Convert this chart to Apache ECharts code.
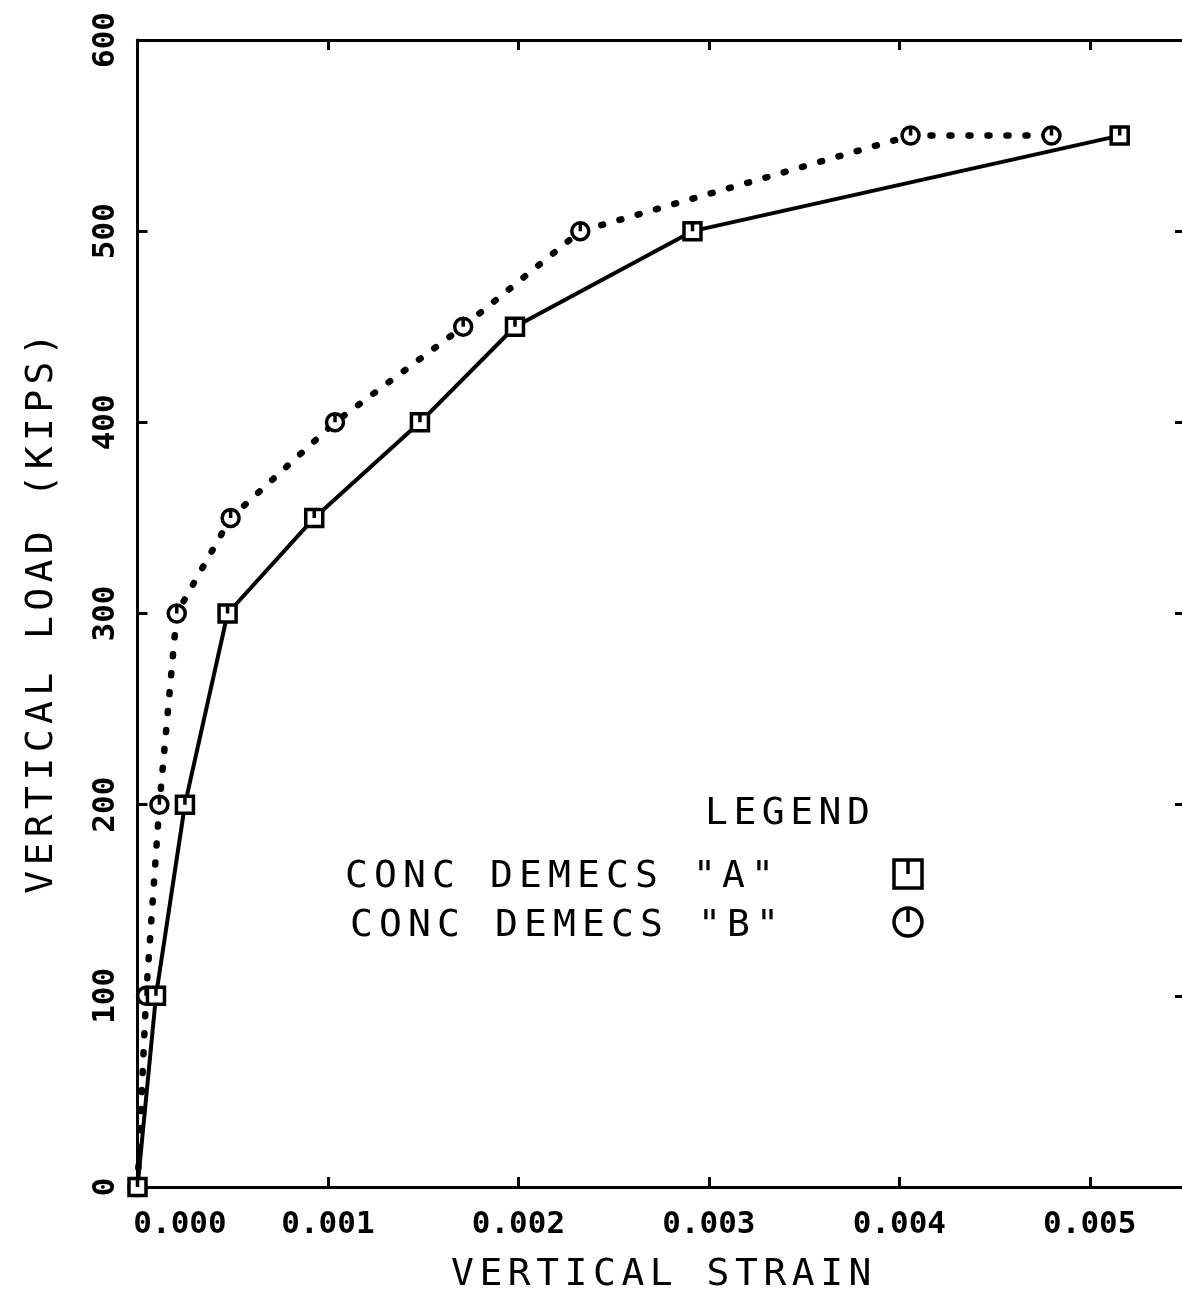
<!DOCTYPE html>
<html><head><meta charset="utf-8">
<script src="https://cdn.jsdelivr.net/npm/echarts@6/dist/echarts.min.js"></script>
<style>html,body{margin:0;padding:0;background:#fff;overflow:hidden}#c{width:1190px;height:1290px}</style>
</head><body><div id="c"></div>
<script>
// ---- data ----
const loadsA  = [0, 100, 200, 300, 350, 400, 450, 500, 550];
const strainA = [0, 0.000097, 0.000249, 0.000473, 0.000928, 0.001483, 0.001982, 0.002914, 0.005157];
const loadsB  = [0, 100, 200, 300, 350, 400, 450, 500, 550, 550];
const strainB = [0, 0.000045, 0.000115, 0.000206, 0.000489, 0.001037, 0.001710, 0.002325, 0.004059, 0.004799];
const xTickValues = [0, 0.001, 0.002, 0.003, 0.004, 0.005];
const xTickLabels = ['0.000', '0.001', '0.002', '0.003', '0.004', '0.005'];
const yTickValues = [0, 100, 200, 300, 400, 500, 600];
const yTickLabels = ['0', '100', '200', '300', '400', '500', '600'];
const xTitle = 'VERTICAL STRAIN';
const yTitle = 'VERTICAL LOAD (KIPS)';
const legendTitle = 'LEGEND';
const seriesNames = ['CONC DEMECS "A"', 'CONC DEMECS "B"'];

// ---- style ----
const MONO = '"DejaVu Sans Mono", "Liberation Mono", monospace';
const TITLE_SIZE = 38;
function spaced(text, key) {
  return text.split('').map(ch => '{' + key + '|' + ch + '}').join('');
}
function richChar(pitch) {
  return { width: pitch, fontFamily: MONO, fontSize: TITLE_SIZE, color: '#000', fontWeight: 'normal' };
}
const squarePath = 'path://M0,0 L20,0 L20,20 L0,20 Z M10,0 L10,10';
const circlePath = 'path://M20,10 A10,10 0 1,1 0,10 A10,10 0 1,1 20,10 Z M10,0 L10,10';

const chart = echarts.init(document.getElementById('c'), null, { renderer: 'canvas' });

const axisLineStyle = { color: '#000', width: 3 };
const tickCommon = { inside: true, length: 10, lineStyle: { color: '#000', width: 3 } };

function xLabel(v) {
  const i = xTickValues.findIndex(t => Math.abs(t - v) < 1e-9);
  if (i < 0) return '';
  return i === 0 ? '{first|' + xTickLabels[i] + '}' : xTickLabels[i];
}
function yLabel(v) {
  const i = yTickValues.findIndex(t => Math.abs(t - v) < 1e-6);
  return i < 0 ? '' : yTickLabels[i];
}

const option = {
  backgroundColor: '#fff',
  animation: false,
  grid: { left: 137.5, right: 5, top: 40, bottom: 103, containLabel: false, outerBoundsMode: 'none' },
  xAxis: [{
    type: 'value', min: 0, max: 0.0055, interval: 0.001, position: 'bottom',
    axisLine: { show: true, onZero: false, lineStyle: axisLineStyle },
    axisTick: tickCommon,
    splitLine: { show: false },
    axisLabel: {
      formatter: xLabel, margin: 22, color: '#000',
      fontFamily: MONO, fontSize: 31, fontWeight: 'bold',
      rich: { first: { padding: [0, 0, 0, 85], fontFamily: MONO, fontSize: 31, fontWeight: 'bold', color: '#000' } }
    },
    name: spaced(xTitle, 'c'), nameLocation: 'middle', nameGap: 69,
    nameTextStyle: { rich: { c: richChar(28.4) } }
  }, {
    type: 'value', min: 0, max: 0.0055, interval: 0.001, position: 'top',
    axisLine: { show: true, onZero: false, lineStyle: axisLineStyle },
    axisTick: tickCommon, axisLabel: { show: false }, splitLine: { show: false }
  }],
  yAxis: [{
    type: 'value', min: 0, max: 600, interval: 100, position: 'left',
    axisLine: { show: true, onZero: false, lineStyle: axisLineStyle },
    axisTick: tickCommon,
    splitLine: { show: false },
    axisLabel: {
      formatter: yLabel, rotate: 90, margin: 16, color: '#000',
      fontFamily: MONO, fontSize: 31, fontWeight: 'bold'
    },
    name: spaced(yTitle, 'c'), nameLocation: 'middle', nameGap: 76, nameRotate: 90,
    nameTextStyle: { rich: { c: richChar(28.3) } }
  }, {
    type: 'value', min: 0, max: 600, interval: 100, position: 'right',
    axisLine: { show: true, onZero: false, lineStyle: axisLineStyle },
    axisTick: tickCommon, axisLabel: { show: false }, splitLine: { show: false }
  }],
  series: [{
    name: seriesNames[0], type: 'line', xAxisIndex: 0, yAxisIndex: 0,
    data: strainA.map((s, i) => [s, loadsA[i]]),
    clip: false,
    lineStyle: { color: '#000', width: 4 },
    symbol: squarePath, symbolSize: 17, showAllSymbol: true,
    itemStyle: { color: '#fff', borderColor: '#000', borderWidth: 3.5 },
    z: 3
  }, {
    name: seriesNames[1], type: 'line', xAxisIndex: 0, yAxisIndex: 0,
    data: strainB.map((s, i) => [s, loadsB[i]]),
    clip: false,
    lineStyle: { color: '#000', width: 6.5, type: [2, 17], cap: 'round' },
    symbol: circlePath, symbolSize: 17, showAllSymbol: true,
    itemStyle: { color: '#fff', borderColor: '#000', borderWidth: 3.5 },
    z: 2
  }],
  graphic: [
    { type: 'text', x: 705, y: 814,
      style: { text: spaced(legendTitle, 'c'), verticalAlign: 'middle', align: 'left', rich: { c: richChar(28.4) } } },
    { type: 'text', x: 345, y: 877,
      style: { text: spaced(seriesNames[0], 'c'), verticalAlign: 'middle', align: 'left', rich: { c: richChar(29) } } },
    { type: 'text', x: 350, y: 926,
      style: { text: spaced(seriesNames[1], 'c'), verticalAlign: 'middle', align: 'left', rich: { c: richChar(29) } } },
    { type: 'rect', shape: { x: 894, y: 860, width: 28, height: 28 },
      style: { fill: '#fff', stroke: '#000', lineWidth: 3.5 } },
    { type: 'line', shape: { x1: 908, y1: 860, x2: 908, y2: 874 },
      style: { stroke: '#000', lineWidth: 3.5 } },
    { type: 'circle', shape: { cx: 908, cy: 922, r: 14 },
      style: { fill: '#fff', stroke: '#000', lineWidth: 3.5 } },
    { type: 'line', shape: { x1: 908, y1: 908, x2: 908, y2: 922 },
      style: { stroke: '#000', lineWidth: 3.5 } }
  ]
};
chart.setOption(option);
</script>
</body></html>
